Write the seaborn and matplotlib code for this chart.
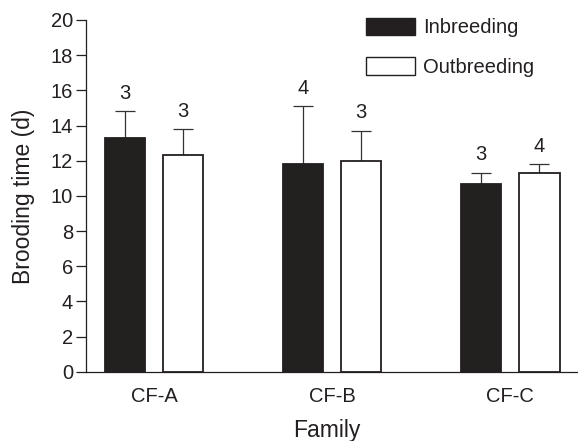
import matplotlib
matplotlib.use("Agg")
import matplotlib.pyplot as plt
from matplotlib.patches import Patch
import numpy as np
import pandas as pd
import seaborn as sns

# Mean brooding time (days) per family and mating type, with SE and sample sizes
families = ["CF-A", "CF-B", "CF-C"]
groups = ["Inbreeding", "Outbreeding"]
inbreeding_mean = [13.3, 11.8, 10.7]
outbreeding_mean = [12.3, 12.0, 11.3]
inbreeding_err = [1.5, 3.3, 0.6]
outbreeding_err = [1.5, 1.7, 0.5]
inbreeding_n = [3, 4, 3]
outbreeding_n = [3, 3, 4]
yticks = [0, 2, 4, 6, 8, 10, 12, 14, 16, 18, 20]

sns.set_theme(style="ticks")
plt.rcParams["font.family"] = ["Liberation Sans", "DejaVu Sans"]

ink = "#231f20"
df = pd.DataFrame({
    "Family": families * 2,
    "Group": [groups[0]] * 3 + [groups[1]] * 3,
    "Time": inbreeding_mean + outbreeding_mean,
    "Err": inbreeding_err + outbreeding_err,
    "N": inbreeding_n + outbreeding_n,
})

fig = plt.figure(figsize=(5.78, 4.41), dpi=100)
ax = fig.add_axes([85.7 / 578, 1 - 371.7 / 441, 1 - 85.7 / 578, (371.7 - 20) / 441])

sns.barplot(data=df, x="Family", y="Time", hue="Group", order=families,
            hue_order=groups, palette={groups[0]: ink, groups[1]: "white"},
            width=0.655, gap=0.31, errorbar=None, legend=False, ax=ax,
            edgecolor=ink, linewidth=1.3, zorder=3)

# Upward-only error bars and sample sizes above each bar
for container, grp in zip(ax.containers, groups):
    sub = df[df["Group"] == grp].set_index("Family").loc[families]
    xs = [p.get_x() + p.get_width() / 2 for p in container.patches]
    tops = sub["Time"].values
    errs = sub["Err"].values
    ax.errorbar(xs, tops, yerr=[np.zeros_like(errs), errs], fmt="none",
                ecolor="#333333", elinewidth=0.9, capsize=7.2, capthick=0.9,
                zorder=2)
    for x, t, e, n in zip(xs, tops, errs, sub["N"].values):
        ax.annotate(str(n), (x, t + e), xytext=(0, 9), textcoords="offset points",
                    ha="center", va="baseline", fontsize=14.5, color=ink)

ax.set_ylim(0, 20)
ax.set_xlim(-0.383, 2.38)
ax.set_yticks(yticks)
ax.set_yticklabels([str(v) for v in yticks])
ax.tick_params(axis="y", length=7, width=0.9, color=ink, labelsize=14.5,
               labelcolor=ink, pad=2)
ax.tick_params(axis="x", length=0, labelsize=14.5, labelcolor=ink, pad=11)
for side in ["top", "right"]:
    ax.spines[side].set_visible(False)
for side in ["left", "bottom"]:
    ax.spines[side].set_color(ink)
    ax.spines[side].set_linewidth(0.9)

ax.set_xlabel("Family", fontsize=16.5, color=ink)
ax.set_ylabel("Brooding time (d)", fontsize=16.5, color=ink)
ax.xaxis.set_label_coords((326.7 - 85.7) / (578 - 85.7), -0.135)
ax.yaxis.set_label_coords((35 - 85.7) / (578 - 85.7), 0.5)

handles = [Patch(facecolor=ink, edgecolor=ink, linewidth=1.0, label=groups[0]),
           Patch(facecolor="white", edgecolor=ink, linewidth=1.0, label=groups[1])]
ax.legend(handles=handles, frameon=False, fontsize=14.5, loc="upper left",
          bbox_to_anchor=((366 - 85.7) / (578 - 85.7) - 0.036, 1.058),
          handlelength=2.4, handleheight=0.95, handletextpad=0.4,
          labelspacing=1.0, labelcolor=ink)

fig.savefig("out.png", dpi=100)
